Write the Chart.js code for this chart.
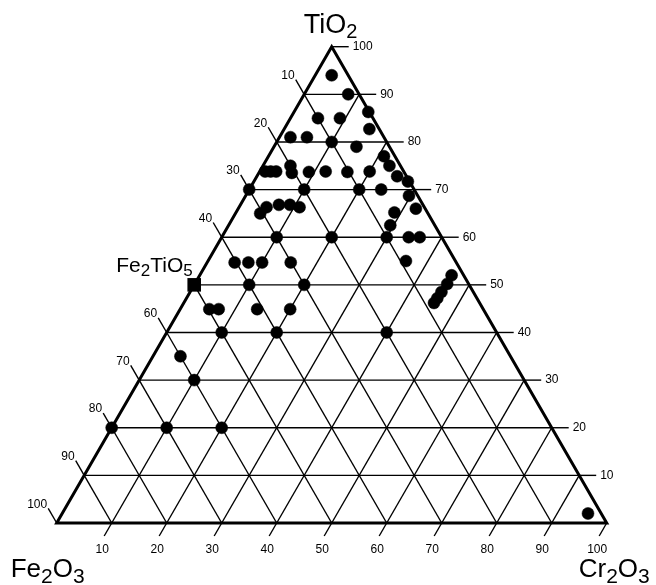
<!DOCTYPE html>
<html>
<head>
<meta charset="utf-8">
<script src="https://cdn.jsdelivr.net/npm/chart.js@4"></script>
<style>
  body { margin: 0; background: #fff; }
</style>
</head>
<body>
<canvas id="ternary" width="656" height="585"></canvas>
<script>
const canvas = document.getElementById('ternary');

// sample compositions, mol % (Fe2O3 is the rest: 100 - Cr2O3 - TiO2)
const sampleCr2O3 = [
  3, 8, 13.5, 15.5, 5, 9, 2, 5, 10, 15,
  21, 23, 25.5, 28, 1, 2, 3, 5, 6, 9,
  12, 16, 20, 0, 10, 20, 24, 29.7, 32.3, 28.8,
  29.4, 4.5, 5, 7, 9, 11, 10, 20, 30, 34,
  36, 36, 5, 7.5, 10, 15.2, 10, 20, 45.8, 45.9,
  45.7, 45.6, 45.5, 5.3, 7, 14, 20, 10, 20, 40,
  5, 10, 0, 10, 20, 95.6
];
const sampleTiO2 = [
  94, 90, 86.3, 82.7, 85, 85, 81, 81, 80, 79,
  77, 75, 72.8, 71.7, 73.8, 73.8, 73.8, 75, 73.5, 73.7,
  73.8, 73.7, 73.8, 70, 70, 70, 70, 68.7, 66, 65.2,
  62.5, 65, 66.3, 66.8, 66.8, 66.3, 60, 60, 60, 60,
  60, 55, 54.7, 54.7, 54.7, 54.7, 50, 50, 52, 50.2,
  48.5, 47.2, 46.2, 44.9, 44.9, 44.9, 44.9, 40, 40, 40,
  35, 30, 20, 20, 20, 2
];

// Fe2TiO5 reference phase
const phaseName = 'Fe2TiO5';
const phaseCr2O3 = [0];
const phaseTiO2 = [50];

const gridSteps = [10, 20, 30, 40, 50, 60, 70, 80, 90];
const tickLabels = [10, 20, 30, 40, 50, 60, 70, 80, 90, 100];

const H = Math.sqrt(3) / 2;
const toXY = (cr, ti) => ({ x: cr + ti / 2, y: ti * H });

const FONT = '"Liberation Sans", Arial, sans-serif';

function drawFormula(ctx, text, x, yBase, size, subSize, drop) {
  const parts = text.match(/\d+|\D+/g);
  let cx = x;
  parts.forEach(p => {
    const sub = /\d/.test(p);
    ctx.font = (sub ? subSize : size) + 'px ' + FONT;
    ctx.fillText(p, cx, sub ? yBase + drop : yBase);
    cx += ctx.measureText(p).width;
  });
}

const ternaryFrame = {
  id: 'ternaryFrame',
  beforeDatasetsDraw(chart) {
    const { ctx, scales: { x, y } } = chart;
    const px = (cr, ti) => {
      const p = toXY(cr, ti);
      return [x.getPixelForValue(p.x), y.getPixelForValue(p.y)];
    };
    const line = (a, b, w) => {
      ctx.lineWidth = w;
      ctx.beginPath();
      ctx.moveTo(a[0], a[1]);
      ctx.lineTo(b[0], b[1]);
      ctx.stroke();
    };

    ctx.save();
    ctx.strokeStyle = '#000';
    ctx.fillStyle = '#000';

    // grid
    gridSteps.forEach(v => {
      line(px(0, v), px(100 - v, v), 1.4);
      line(px(v, 0), px(v, 100 - v), 1.4);
      line(px(100 - v, 0), px(0, 100 - v), 1.4);
    });

    // ticks + labels
    ctx.font = '12px ' + FONT;
    tickLabels.forEach(v => {
      // TiO2, right side
      let p = px(100 - v, v);
      line(p, [p[0] + 17, p[1]], 1.4);
      ctx.textAlign = 'left';
      ctx.textBaseline = 'middle';
      ctx.fillText(v, p[0] + 21, p[1]);

      // Fe2O3, left side (50 sits under the Fe2TiO5 marker)
      p = px(0, 100 - v);
      let e = [p[0] - 8.5, p[1] - 14.7];
      if (100 - v !== phaseTiO2[0]) {
        line(p, e, 1.4);
        ctx.textAlign = 'right';
        ctx.textBaseline = 'bottom';
        ctx.fillText(v, e[0] - 1, e[1] + 2);
      }

      // Cr2O3, bottom
      p = px(v, 0);
      e = [p[0] - 7.5, p[1] + 13];
      line(p, e, 1.4);
      ctx.textAlign = 'center';
      ctx.textBaseline = 'top';
      ctx.fillText(v, e[0] - 2, e[1] + 8);
    });

    // triangle edges
    const a = px(0, 0), b = px(100, 0), c = px(0, 100);
    ctx.lineWidth = 3;
    ctx.lineJoin = 'miter';
    ctx.beginPath();
    ctx.moveTo(a[0], a[1]);
    ctx.lineTo(b[0], b[1]);
    ctx.lineTo(c[0], c[1]);
    ctx.closePath();
    ctx.stroke();

    // corner names
    ctx.textAlign = 'left';
    ctx.textBaseline = 'alphabetic';
    drawFormula(ctx, 'TiO2', c[0] - 28, c[1] - 14, 27, 20, 5);
    drawFormula(ctx, 'Fe2O3', a[0] - 46, a[1] + 54, 26, 21, 6);
    drawFormula(ctx, 'Cr2O3', b[0] - 28, b[1] + 54, 26, 21, 6);

    const f = px(phaseCr2O3[0], phaseTiO2[0]);
    drawFormula(ctx, phaseName, f[0] - 78, f[1] - 12.5, 21, 17, 4);
    ctx.restore();
  }
};

new Chart(canvas, {
  type: 'scatter',
  data: {
    datasets: [
      {
        label: 'samples',
        data: sampleCr2O3.map((cr, i) => toXY(cr, sampleTiO2[i])),
        pointStyle: 'circle',
        pointRadius: 6,
        borderWidth: 0.5,
        backgroundColor: '#000',
        borderColor: '#000',
      },
      {
        label: phaseName,
        data: phaseCr2O3.map((cr, i) => toXY(cr, phaseTiO2[i])),
        pointStyle: 'rect',
        pointRadius: 9.6,
        borderWidth: 0,
        backgroundColor: '#000',
        borderColor: '#000',
      },
    ],
  },
  options: {
    responsive: false,
    animation: false,
    clip: false,
    layout: {
      padding: { left: 56.7, right: 49.3, top: 46.7, bottom: 62 },
    },
    plugins: {
      legend: { display: false },
      tooltip: { enabled: false },
    },
    scales: {
      x: { type: 'linear', min: 0, max: 100, display: false },
      y: { type: 'linear', min: 0, max: 100 * H, display: false },
    },
  },
  plugins: [ternaryFrame],
});
</script>
</body>
</html>
